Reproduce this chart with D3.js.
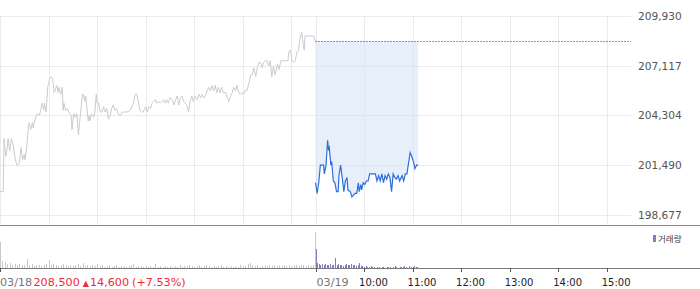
<!DOCTYPE html>
<html>
<head>
<meta charset="utf-8">
<script src="https://cdn.jsdelivr.net/npm/d3@7"></script>
<style>
  body { margin: 0; background: #fff; }
  svg { display: block; }
</style>
</head>
<body>
<svg id="chart"></svg>
<script>
// price axis labels
const yTicks = [198677, 201490, 204304, 207117, 209930];
const prevClose = 208500;

// 03/18 session: [minutes after 09:00, price]
const day1 = [[0,200000],[4,200000],[5,203000],[7,202000],[8,202100],[10,203000],[12,202300],[14,203000],[16,202700],[19,201800],
  [21,201500],[24,201600],[26,202500],[28,201800],[30,202100],[31,201800],[33,202500],[35,203600],[36,203900],[38,203500],
  [40,203900],[41,203600],[43,204000],[45,204300],[46,204400],[49,204300],[50,204600],[52,205000],[54,204600],[55,205000],
  [57,204500],[59,205900],[61,206300],[63,206500],[65,206400],[67,205600],[68,205700],[70,206000],[72,205600],[73,205900],
  [75,205500],[77,205900],[78,204600],[79,205000],[81,204600],[83,204700],[85,204500],[88,204300],[89,203500],[91,204400],
  [93,204200],[95,204400],[97,203200],[99,204200],[102,205500],[103,205500],[105,205100],[106,205400],[109,204000],[110,204300],
  [111,204000],[113,204400],[116,204200],[117,204400],[119,205500],[120,205000],[122,205000],[124,204500],[126,204500],[128,204800],
  [130,204500],[132,204700],[134,204100],[136,204300],[138,204700],[140,204900],[142,204600],[144,204700],[146,204400],[149,204300],
  [151,204500],[157,204500],[161,204600],[163,204800],[165,205000],[167,205500],[169,205500],[171,205100],[173,204600],[175,204500],
  [177,204500],[180,204800],[182,204500],[184,204800],[186,204700],[188,205000],[190,205100],[192,205200],[194,205000],[196,205100],
  [198,205000],[200,205100],[202,205200],[204,205000],[206,205200],[208,205000],[210,205300],[213,205200],[215,204900],[217,205200],
  [219,205400],[221,204900],[223,205300],[225,205400],[227,205100],[229,205000],[231,204900],[233,204500],[235,205100],[237,205400],
  [239,205100],[241,205400],[244,205200],[246,205500],[248,205300],[250,205500],[252,205300],[254,205400],[256,205700],[258,205900],
  [260,205700],[262,206000],[264,205700],[266,206000],[268,205600],[270,205900],[272,205600],[274,205900],[276,205600],[279,205600],
  [281,205300],[283,205100],[285,205400],[287,205600],[289,205900],[291,205700],[293,206000],[295,205600],[297,205500],[299,205600],
  [301,205500],[303,205700],[305,205700],[307,206000],[310,206600],[312,206600],[313,206900],[314,207000],[316,206500],[318,207000],
  [320,207300],[322,207300],[324,207000],[326,207300],[328,207400],[330,207400],[332,207100],[334,207400],[336,206500],[338,207100],
  [340,206600],[343,207200],[345,206900],[347,207400],[356,207400],[357,207900],[359,208000],[361,207400],[363,207300],[365,207400],
  [367,207900],[369,208000],[371,208700],[373,209000],[374,208600],[376,208000],[377,208800],[380,208800],[388,208800],[390,208500]];

// 03/19 session so far
const day2 = [[0,200500],[2,199900],[4,200500],[6,201500],[10,201500],[11,201000],[13,201500],[15,202900],[16,202400],[17,202500],
  [19,201500],[20,201700],[22,200600],[24,200500],[26,200000],[28,200000],[29,200900],[31,201500],[33,200800],[35,200000],
  [37,200600],[39,200800],[40,200100],[43,200000],[45,199700],[47,199800],[49,199900],[51,199900],[53,200500],[54,200000],
  [56,200400],[57,200100],[59,200500],[61,200400],[63,200600],[65,200600],[67,201000],[74,201000],[76,200600],[78,200900],
  [80,200600],[82,201000],[84,200500],[86,200900],[88,200700],[90,201000],[92,200800],[94,200000],[96,201000],[98,200800],
  [100,200700],[102,200900],[104,200600],[107,200900],[109,200600],[111,201000],[113,201000],[115,201600],[117,202200],[119,202000],
  [121,201700],[123,201300],[125,201500],[127,201500]];

// volume (thousand shares), 03/18 every 3 min, 03/19 every 2 min
const vol1 = [26,7,6,4,5,3,4,3,4,3,3,9,3,4,2,3,3,2,3,4,8,3,4,3,2,3,4,3,2,3,2,3,4,2,5,2,3,2,3,2,4,2,3,1,2,3,1,2,3,1,
  2,2,1,2,3,4,1,2,2,1,2,1,2,1,4,1,2,1,2,1,2,1,2,1,3,1,2,2,3,2,1,2,3,1,2,3,2,1,2,1,2,3,1,2,1,2,1,2,1,3,
  2,2,4,5,3,2,3,1,2,3,2,3,2,3,2,3,2,3,2,3,2,3,3,2,3,3,2,3,2,3,36];
const vol2 = [19,5,4,3,4,3,4,3,3,4,3,3,10,3,4,3,3,2,3,4,3,3,4,3,3,2,3,5,2,2,1,2,1,1,2,1,1,0,1,1,0,1,1,0,1,1,1,0,1,2,
  1,0,1,1,1,2,1,0,2,1,1,2,1,1];

const hourLabels = ['10:00', '11:00', '12:00', '13:00', '14:00', '15:00'];
const dates = ['03/18', '03/19'];
const quote = { price: '208,500', change: '14,600', pct: '(+7.53%)' };

const W = 700, H = 289;
const sessionLen = 390; // 09:00 - 15:30
const svg = d3.select('#chart').attr('width', W).attr('height', H);

const x = d3.scaleLinear().domain([0, sessionLen * 2]).range([0, 631]);
const y = d3.scaleLinear().domain([yTicks[0], yTicks[yTicks.length - 1]]).range([215, 16]);
const yv = d3.scaleLinear().domain([0, 42]).range([268, 226]);

const hm = s => (+s.slice(0, 2) - 9) * 60 + (+s.slice(3));
const gridMins = [0, ...hourLabels.map(hm), sessionLen, ...hourLabels.map(h => sessionLen + hm(h))];
const px = v => Math.round(v) + 0.5;

// grid
svg.append('g').selectAll('line').data(yTicks).enter().append('line')
  .attr('x1', 0).attr('x2', x(sessionLen * 2))
  .attr('y1', d => px(y(d))).attr('y2', d => px(y(d)))
  .attr('stroke', '#ebebeb');
svg.append('g').selectAll('line').data(gridMins).enter().append('line')
  .attr('x1', d => px(x(d))).attr('x2', d => px(x(d)))
  .attr('y1', px(y(yTicks[4]))).attr('y2', 225)
  .attr('stroke', '#ebebeb');

// shaded area between today's price and base line
const area = d3.area()
  .x(d => x(sessionLen + d[0]))
  .y0(y(prevClose))
  .y1(d => y(d[1]));
svg.append('path').datum(day2).attr('d', area)
  .attr('fill', '#d3e1f5').attr('fill-opacity', 0.55);

svg.append('line')
  .attr('x1', x(sessionLen)).attr('x2', x(sessionLen * 2))
  .attr('y1', px(y(prevClose))).attr('y2', px(y(prevClose)))
  .attr('stroke', '#333').attr('stroke-dasharray', '1,2');

const line1 = d3.line().x(d => x(d[0])).y(d => y(d[1]));
const line2 = d3.line().x(d => x(sessionLen + d[0])).y(d => y(d[1]));
svg.append('path').datum(day1).attr('d', line1)
  .attr('fill', 'none').attr('stroke', '#cbccd1').attr('stroke-width', 1);
svg.append('path').datum(day2).attr('d', line2)
  .attr('fill', 'none').attr('stroke', '#2c6fd9').attr('stroke-width', 1.2);

// price labels
svg.append('g').selectAll('text').data(yTicks).enter().append('text')
  .attr('x', 638).attr('y', d => y(d)).attr('dy', '0.36em')
  .attr('font-family', 'DejaVu Sans').attr('font-size', 10.6)
  .attr('fill', '#555')
  .text(d => d3.format(',')(d));

// volume bars
svg.append('g').selectAll('rect').data(vol1).enter().append('rect')
  .attr('x', (d, i) => Math.round(x(i * 3)) - (i === vol1.length - 1 ? 1 : 0)).attr('width', 1)
  .attr('y', d => yv(d)).attr('height', d => yv(0) - yv(d))
  .attr('fill', '#c8c8ca');
svg.append('g').selectAll('rect').data(vol2).enter().append('rect')
  .attr('x', (d, i) => Math.round(x(sessionLen + i * 2))).attr('width', 1)
  .attr('y', d => yv(d)).attr('height', d => yv(0) - yv(d))
  .attr('fill', '#8c78c6');

// frame lines
svg.append('line').attr('x1', 0).attr('x2', W).attr('y1', 225.5).attr('y2', 225.5).attr('stroke', '#8a8a8a');
svg.append('line').attr('x1', 0).attr('x2', W).attr('y1', 268.5).attr('y2', 268.5).attr('stroke', '#7a7a7a');

// time ticks
const tickMins = [0, sessionLen, ...hourLabels.map(h => sessionLen + hm(h))];
svg.append('g').selectAll('line').data(tickMins).enter().append('line')
  .attr('x1', d => px(x(d))).attr('x2', d => px(x(d)))
  .attr('y1', 268).attr('y2', 272)
  .attr('stroke', '#555');

svg.append('g').selectAll('text').data(dates).enter().append('text')
  .attr('x', (d, i) => x(i * sessionLen) + (i ? 1 : 0)).attr('y', 286)
  .attr('font-family', 'DejaVu Sans').attr('font-size', 11.2)
  .attr('fill', '#777').text(d => d);

svg.append('g').selectAll('text').data(hourLabels).enter().append('text')
  .attr('x', d => x(sessionLen + hm(d)) - 5).attr('y', 286)
  .attr('font-family', 'DejaVu Sans').attr('font-size', 10)
  .attr('fill', '#222').text(d => d);

const q = svg.append('text').attr('x', 33.5).attr('y', 286)
  .attr('font-family', 'DejaVu Sans').attr('font-size', 11.2).attr('fill', '#ee2a36');
q.append('tspan').text(quote.price);
q.append('tspan').attr('dx', 3).attr('font-size', 8).text('▲');
q.append('tspan').attr('dx', 1).text(quote.change);
q.append('tspan').attr('dx', 3).text(quote.pct);

// legend
svg.append('rect').attr('x', 653).attr('y', 235).attr('width', 3).attr('height', 7).attr('fill', '#8c78c6');
svg.append('text').attr('x', 658).attr('y', 242)
  .attr('font-family', 'Noto Sans CJK KR').attr('font-size', 8.5)
  .attr('fill', '#444').text('거래량');
</script>
</body>
</html>
